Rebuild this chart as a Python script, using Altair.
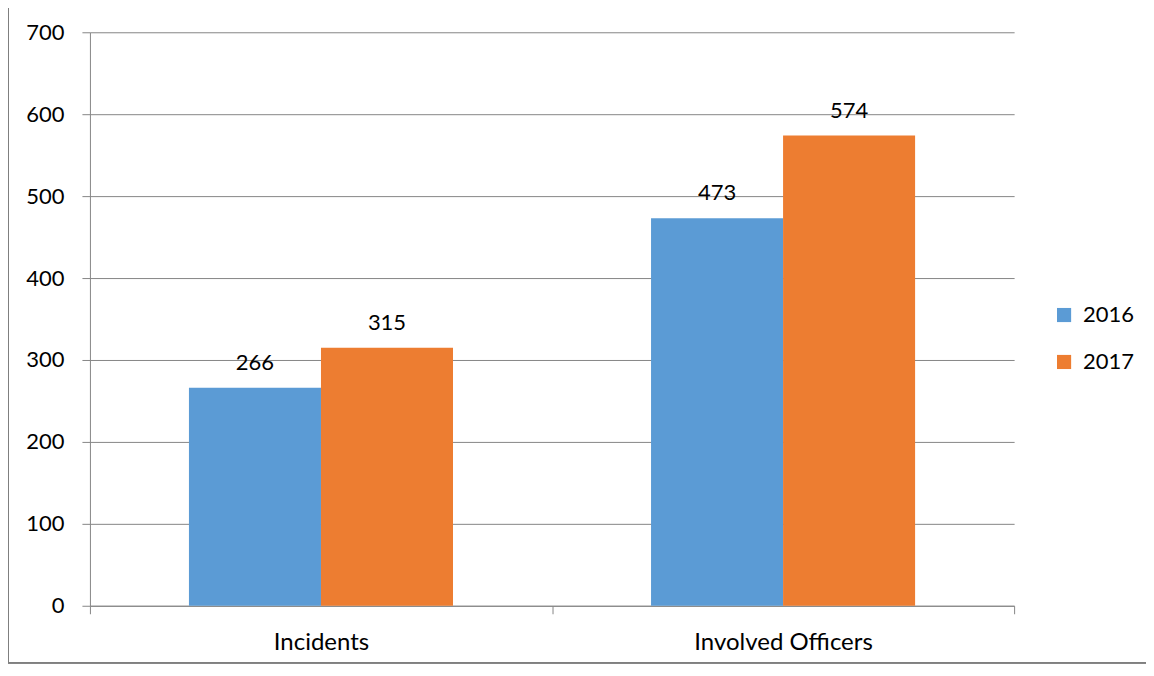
import altair as alt
import pandas as pd

categories = ["Incidents", "Incidents", "Involved Officers", "Involved Officers"]
years = ["2016", "2017", "2016", "2017"]
values = [266, 315, 473, 574]

df = pd.DataFrame({"category": categories, "year": years, "value": values})

FONT = "Lato"
FS = 22
colors = ["#5B9BD5", "#ED7D31"]

x = alt.X("category:N", title=None,
          scale=alt.Scale(paddingInner=0, paddingOuter=0),
          axis=alt.Axis(labelAngle=0, tickBand="extent", tickSize=8, labelPadding=17,
                        domainColor="#868686", tickColor="#868686", labelFontSize=24,
                        labelFont=FONT, labelColor="#000000", grid=False))
xo = alt.XOffset("year:N", scale=alt.Scale(paddingOuter=0.75, paddingInner=0))

bars = alt.Chart(df).mark_bar().encode(
    x=x,
    xOffset=xo,
    y=alt.Y("value:Q", title=None,
            scale=alt.Scale(domain=[0, 700], nice=False),
            axis=alt.Axis(values=[0, 100, 200, 300, 400, 500, 600, 700],
                          tickSize=8, labelPadding=18, labelFontSize=FS,
                          labelFont=FONT, labelColor="#000000",
                          domainColor="#868686", tickColor="#868686",
                          gridColor="#868686", gridWidth=1)),
    color=alt.Color("year:N", title=None,
                    scale=alt.Scale(domain=["2016", "2017"], range=colors),
                    legend=alt.Legend(orient="none", legendX=964, legendY=272,
                                      symbolType="square", symbolSize=200,
                                      symbolStrokeWidth=0, labelFontSize=FS,
                                      labelFont=FONT, rowPadding=25, labelOffset=8)),
)

labels = alt.Chart(df).mark_text(baseline="alphabetic", dy=-18, fontSize=FS,
                                 font=FONT, color="#000000").encode(
    x=alt.X("category:N"),
    xOffset=xo,
    y=alt.Y("value:Q"),
    text=alt.Text("value:Q"),
)

border = alt.Chart(df).mark_rect(fill=None, stroke="#7f7f7f", strokeWidth=1.5).encode(
    x=alt.value(-82), x2=alt.value(1075), y=alt.value(-31), y2=alt.value(631)
)

chart = alt.layer(bars, labels, border).properties(
    width=925, height=574,
    autosize=alt.AutoSizeParams(type="none"),
    padding={"left": 82, "top": 24, "right": 132, "bottom": 58},
).configure_view(stroke=None).configure_axis(gridOpacity=1)

chart.save("out.html", embed_options={"renderer": "svg", "actions": False})
